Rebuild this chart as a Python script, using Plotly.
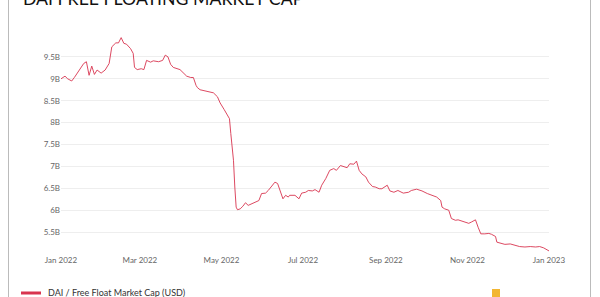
import plotly.graph_objects as go

dates = [
    "2022-01-01", "2022-01-04", "2022-01-06", "2022-01-09", "2022-01-11", "2022-01-14",
    "2022-01-18", "2022-01-20", "2022-01-22", "2022-01-24", "2022-01-26", "2022-01-28",
    "2022-01-31", "2022-02-03", "2022-02-06", "2022-02-08", "2022-02-11", "2022-02-13",
    "2022-02-15", "2022-02-17", "2022-02-19", "2022-02-22", "2022-02-24", "2022-02-25",
    "2022-02-27", "2022-03-02", "2022-03-04", "2022-03-06", "2022-03-09", "2022-03-11",
    "2022-03-15", "2022-03-18", "2022-03-20", "2022-03-22", "2022-03-24", "2022-03-26",
    "2022-03-29", "2022-03-31", "2022-04-03", "2022-04-05", "2022-04-08", "2022-04-10",
    "2022-04-12", "2022-04-13", "2022-04-15", "2022-04-19", "2022-04-23", "2022-04-25",
    "2022-04-28", "2022-04-30", "2022-05-03", "2022-05-05", "2022-05-07", "2022-05-08",
    "2022-05-10", "2022-05-11", "2022-05-12", "2022-05-13", "2022-05-15", "2022-05-17",
    "2022-05-19", "2022-05-21", "2022-05-24", "2022-05-26", "2022-05-29", "2022-05-31",
    "2022-06-03", "2022-06-05", "2022-06-08", "2022-06-10", "2022-06-12", "2022-06-14",
    "2022-06-16", "2022-06-18", "2022-06-20", "2022-06-21", "2022-06-25", "2022-06-28",
    "2022-06-30", "2022-07-03", "2022-07-05", "2022-07-08", "2022-07-10", "2022-07-13",
    "2022-07-15", "2022-07-18", "2022-07-20", "2022-07-21", "2022-07-24", "2022-07-26",
    "2022-07-29", "2022-07-31", "2022-08-03", "2022-08-05", "2022-08-08", "2022-08-10",
    "2022-08-12", "2022-08-14", "2022-08-17", "2022-08-19", "2022-08-22", "2022-08-24",
    "2022-08-27", "2022-08-29", "2022-09-02", "2022-09-04", "2022-09-07", "2022-09-10",
    "2022-09-14", "2022-09-18", "2022-09-20", "2022-09-24", "2022-09-28", "2022-10-02",
    "2022-10-05", "2022-10-09", "2022-10-12", "2022-10-13", "2022-10-15", "2022-10-18",
    "2022-10-20", "2022-10-23", "2022-10-25", "2022-10-28", "2022-10-30", "2022-11-02",
    "2022-11-04", "2022-11-07", "2022-11-09", "2022-11-11", "2022-11-14", "2022-11-17",
    "2022-11-19", "2022-11-22", "2022-11-23", "2022-11-25", "2022-11-29", "2022-12-03",
    "2022-12-07", "2022-12-10", "2022-12-14", "2022-12-18", "2022-12-22", "2022-12-25",
    "2022-12-28", "2022-12-30", "2023-01-01",
]

market_cap_b = [
    9.00, 9.06, 9.00, 8.95, 9.03, 9.18,
    9.35, 9.39, 9.08, 9.29, 9.10, 9.20,
    9.13, 9.20, 9.35, 9.73, 9.82, 9.82,
    9.94, 9.81, 9.79, 9.69, 9.58, 9.26,
    9.21, 9.23, 9.21, 9.42, 9.38, 9.41,
    9.39, 9.42, 9.54, 9.50, 9.33, 9.26,
    9.23, 9.21, 9.12, 9.06, 9.03, 9.03,
    8.85, 8.80, 8.75, 8.72, 8.70, 8.68,
    8.59, 8.45, 8.30, 8.19, 8.09, 7.75,
    7.14, 6.53, 6.07, 6.01, 6.03, 6.09,
    6.17, 6.11, 6.15, 6.19, 6.22, 6.38,
    6.39, 6.45, 6.57, 6.64, 6.61, 6.45,
    6.26, 6.34, 6.30, 6.34, 6.34, 6.26,
    6.39, 6.41, 6.45, 6.44, 6.47, 6.41,
    6.57, 6.72, 6.85, 6.91, 6.95, 6.91,
    7.02, 7.00, 6.97, 7.06, 7.05, 7.12,
    6.91, 6.83, 6.76, 6.64, 6.54, 6.53,
    6.49, 6.49, 6.57, 6.44, 6.41, 6.45,
    6.39, 6.41, 6.45, 6.48, 6.44, 6.38,
    6.34, 6.30, 6.22, 6.07, 6.03, 6.00,
    5.81, 5.77, 5.78, 5.75, 5.73, 5.70,
    5.73, 5.78, 5.61, 5.46, 5.46, 5.47,
    5.45, 5.40, 5.27, 5.25, 5.22, 5.23,
    5.20, 5.17, 5.16, 5.17, 5.16, 5.17,
    5.14, 5.10, 5.07,
]

y_tick_vals = [5.5, 6.0, 6.5, 7.0, 7.5, 8.0, 8.5, 9.0, 9.5]
y_tick_text = ["5.5B", "6B", "6.5B", "7B", "7.5B", "8B", "8.5B", "9B", "9.5B"]
x_tick_vals = ["2022-01-01", "2022-03-01", "2022-05-01", "2022-07-01",
               "2022-09-01", "2022-11-01", "2023-01-01"]
x_tick_text = ["Jan 2022", "Mar 2022", "May 2022", "Jul 2022",
               "Sep 2022", "Nov 2022", "Jan 2023"]

title_text = "DAI FREE FLOATING MARKET CAP"
legend_text = "DAI / Free Float Market Cap (USD)"
line_color = "#d8344f"

W, H = 600, 297
ML, MR, MT, MB = 61, 51, 35, 43
PW, PH = W - ML - MR, H - MT - MB


def px(x):
    return (x - ML) / PW


def py(y):
    return (H - MB - y) / PH


fig = go.Figure()
fig.add_trace(go.Scatter(
    x=dates, y=market_cap_b, mode="lines",
    line=dict(color=line_color, width=0.9),
    name=legend_text, showlegend=False,
))

fig.update_layout(
    width=W, height=H,
    margin=dict(l=ML, r=MR, t=MT, b=MB),
    paper_bgcolor="white", plot_bgcolor="white",
    font=dict(family="Lato, sans-serif", color="#555"),
    xaxis=dict(
        type="date", range=["2022-01-01", "2023-01-01"],
        tickvals=x_tick_vals, ticktext=x_tick_text,
        showgrid=False, zeroline=False, showline=False,
        tickfont=dict(size=8, color="#666"), ticks="", ticklen=0,
    ),
    yaxis=dict(
        range=[5.0, 10.0],
        tickvals=y_tick_vals, ticktext=y_tick_text,
        showgrid=True, gridcolor="#eeeeee", gridwidth=1,
        zeroline=False, showline=False,
        tickfont=dict(size=8, color="#666"), ticks="", ticklen=0,
    ),
    shapes=[
        dict(type="line", xref="paper", yref="paper",
             x0=px(8.5), x1=px(8.5), y0=py(-5), y1=py(305),
             line=dict(color="#bbbbbb", width=1)),
        dict(type="line", xref="paper", yref="paper",
             x0=px(590.5), x1=px(590.5), y0=py(-5), y1=py(305),
             line=dict(color="#bbbbbb", width=1)),
        dict(type="line", xref="paper", yref="paper",
             x0=px(21), x1=px(41), y0=py(293), y1=py(293),
             line=dict(color=line_color, width=3)),
        dict(type="rect", xref="paper", yref="paper",
             x0=px(492), x1=px(500), y0=py(289), y1=py(299),
             line=dict(width=0), fillcolor="#f2b632"),
    ],
    annotations=[
        dict(text=title_text, xref="paper", yref="paper",
             x=px(21), y=py(-2), xanchor="left", yanchor="middle",
             showarrow=False, font=dict(size=17.7, color="#111",
                                        family="Lato, sans-serif")),
        dict(text=legend_text, xref="paper", yref="paper",
             x=px(46), y=py(292), xanchor="left", yanchor="middle",
             showarrow=False, font=dict(size=9, color="#333",
                                        family="Lato, sans-serif")),
    ],
)

fig.write_html("out.html")
